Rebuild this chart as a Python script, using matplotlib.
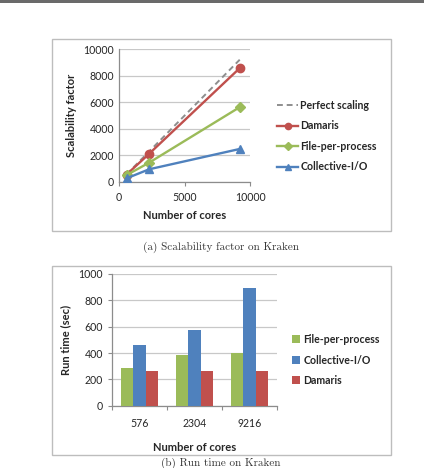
import matplotlib
matplotlib.use("Agg")
import matplotlib.pyplot as plt
from matplotlib.patches import Rectangle
from matplotlib.lines import Line2D
import numpy as np

# ---------------- data ----------------
cores = [576, 2304, 9216]
perfect = [576, 2304, 9216]
damaris_scal = [560, 2130, 8580]
fpp_scal = [520, 1460, 5640]
coll_scal = [276, 960, 2490]

core_labels = ["576", "2304", "9216"]
fpp_time = [283, 382, 397]
coll_time = [463, 575, 890]
dam_time = [261, 261, 261]

line_names = ["Perfect scaling", "Damaris", "File-per-process", "Collective-I/O"]
bar_names = ["File-per-process", "Collective-I/O", "Damaris"]
caption_a = "(a) Scalability factor on Kraken"
caption_b = "(b) Run time on Kraken"

# ---------------- style ----------------
W, H = 424, 468
BLUE = "#4F81BD"
RED = "#C0504D"
GREEN = "#9BBB59"
GRID = "#C8C8C8"
AXC = "#8C8C8C"
TXT = "#262626"
FONT = ["Lato", "DejaVu Sans"]

plt.rcParams["font.family"] = FONT

fig = plt.figure(figsize=(W / 100, H / 100), dpi=100)


def rect(l, t, r, b):
    return [l / W, 1 - b / H, (r - l) / W, (b - t) / H]


# top dark bar
fig.patches.append(Rectangle((0, 1 - 2.5 / H), 1, 2.5 / H, transform=fig.transFigure,
                             facecolor="#6A6A6A", edgecolor="none", zorder=-5))

# frames
for (l, t, r, b) in [(52, 39, 391, 231), (52, 266, 391, 455)]:
    fig.patches.append(Rectangle((l / W, 1 - b / H), (r - l) / W, (b - t) / H,
                                 transform=fig.transFigure, facecolor="none",
                                 edgecolor="#BDBDBD", linewidth=1.0, zorder=-5))


def style_axes(ax):
    ax.set_facecolor("none")
    for s in ["top", "right"]:
        ax.spines[s].set_visible(False)
    for s in ["left", "bottom"]:
        ax.spines[s].set_color(AXC)
        ax.spines[s].set_linewidth(0.9)
    ax.yaxis.grid(True, color=GRID, linewidth=0.9)
    ax.set_axisbelow(True)
    ax.tick_params(axis="both", colors=AXC, labelcolor=TXT, labelsize=7.6,
                   length=3, width=0.8, direction="out")


# ---------------- top: scalability ----------------
ax1 = fig.add_axes(rect(119, 49.3, 250, 182))
ax1.set_xlim(0, 10000)
ax1.set_ylim(0, 10000)
ax1.set_xticks([0, 5000, 10000])
ax1.set_yticks(np.arange(0, 10001, 2000))
style_axes(ax1)
ax1.tick_params(axis="y", length=0)
ax1.tick_params(axis="x", pad=4)
ax1.plot(cores, perfect, color="#8E8E8E", linestyle=(0, (3, 2)), linewidth=1.4, zorder=3)
ax1.plot(cores, damaris_scal, color=RED, marker="o", markersize=6, linewidth=1.7, zorder=4)
ax1.plot(cores, fpp_scal, color=GREEN, marker="D", markersize=5, linewidth=1.7, zorder=4)
ax1.plot(cores, coll_scal, color=BLUE, marker="^", markersize=5.5, linewidth=1.7, zorder=4)
ax1.set_ylabel("Scalability factor", fontsize=8, fontweight="bold", color=TXT, labelpad=5)
ax1.set_xlabel("Number of cores", fontsize=8, fontweight="bold", color=TXT, labelpad=5)

handles1 = [
    Line2D([], [], color="#8E8E8E", linestyle=(0, (3, 2)), linewidth=1.4),
    Line2D([], [], color=RED, marker="o", markersize=4.5, linewidth=1.7),
    Line2D([], [], color=GREEN, marker="D", markersize=3.8, linewidth=1.7),
    Line2D([], [], color=BLUE, marker="^", markersize=4.5, linewidth=1.7),
]
leg1 = fig.legend(handles1, line_names, loc="center left",
                  bbox_to_anchor=(277 / W, 1 - 136 / H), frameon=False,
                  prop={"size": 7.6, "weight": "bold", "family": FONT},
                  handlelength=2.0, handletextpad=0.2, labelspacing=0.9,
                  borderpad=0, borderaxespad=0)
for t in leg1.get_texts():
    t.set_color(TXT)

fig.text(221 / W, 1 - 247 / H, caption_a, family="cmr10", fontsize=8,
         ha="center", va="center", color="#333333")

# ---------------- bottom: run time ----------------
ax2 = fig.add_axes(rect(112, 274, 277, 405.7))
x = np.arange(len(core_labels))
bw = 1 / 4.5
ax2.bar(x - bw, fpp_time, bw, color=GREEN, label=bar_names[0], zorder=3)
ax2.bar(x, coll_time, bw, color=BLUE, label=bar_names[1], zorder=3)
ax2.bar(x + bw, dam_time, bw, color=RED, label=bar_names[2], zorder=3)
ax2.set_xlim(-0.5, 2.5)
ax2.set_ylim(0, 1000)
ax2.set_yticks(np.arange(0, 1001, 200))
style_axes(ax2)
ax2.set_xticks(x)
ax2.set_xticklabels(core_labels)
ax2.tick_params(axis="x", length=0, pad=9)
ax2.set_xticks([-0.5, 0.5, 1.5, 2.5], minor=True)
ax2.tick_params(axis="x", which="minor", length=3, color=AXC, width=0.8)
ax2.tick_params(axis="y", length=3)
ax2.set_ylabel("Run time (sec)", fontsize=8, fontweight="bold", color=TXT, labelpad=5)
ax2.set_xlabel("Number of cores", fontsize=8, fontweight="bold", color=TXT, labelpad=9)

leg2 = fig.legend(*ax2.get_legend_handles_labels(), loc="center left",
                  bbox_to_anchor=(292 / W, 1 - 360 / H), frameon=False,
                  prop={"size": 7.6, "weight": "bold", "family": FONT},
                  handlelength=0.8, handleheight=0.8, handletextpad=0.3,
                  labelspacing=0.9, borderpad=0, borderaxespad=0)
for t in leg2.get_texts():
    t.set_color(TXT)

fig.text(221 / W, 1 - 463 / H, caption_b, family="cmr10", fontsize=8,
         ha="center", va="center", color="#333333")

fig.savefig("out.png", dpi=100)
